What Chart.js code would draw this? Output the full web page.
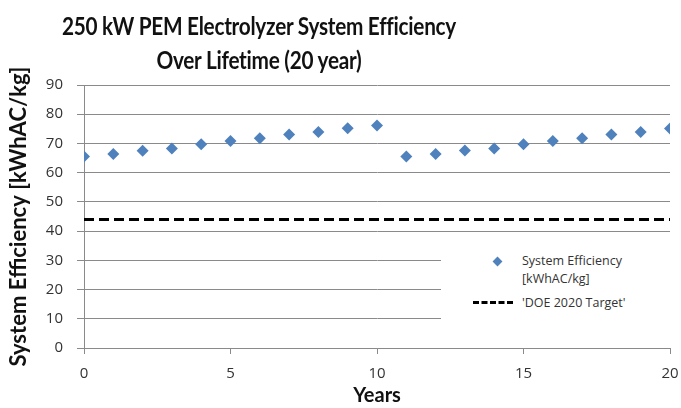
<!DOCTYPE html>
<html>
<head>
<meta charset="utf-8">
<script src="https://cdn.jsdelivr.net/npm/chart.js@4.4.1/dist/chart.umd.min.js"></script>
<style>
    html, body { margin: 0; padding: 0; background: #fff; }
    #wrap { position: relative; width: 681px; height: 408px; overflow: hidden; }
    #chart { position: absolute; left: 0; top: 0; }
    .title {
        position: absolute; left: 0; top: 9px; width: 518px;
        text-align: center; font-family: Lato, sans-serif; font-weight: bold;
        font-size: 24px; line-height: 34px; color: #111; letter-spacing: -0.3px;
        transform: scaleX(0.865); transform-origin: 259px 0;
    }
    .legend {
        position: absolute; left: 441px; top: 246px; width: 240px; height: 92px;
        background: #fff; font-family: "Open Sans", sans-serif; font-size: 12.5px; color: #333;
    }
    .legend .row { position: absolute; left: 81px; }
    .legend .diamond {
        position: absolute; left: 53px; top: 12px; width: 7px; height: 7px;
        background: #4F81BD; transform: rotate(45deg);
    }
    .legend .dash {
        position: absolute; left: 32px; top: 55px; width: 40px; height: 0;
        border-top: 3px dashed #000;
    }
</style>
</head>
<body>
<div id="wrap">
    <canvas id="chart" width="681" height="408"></canvas>
    <div class="title">250 kW PEM Electrolyzer System Efficiency<br>Over Lifetime (20 year)</div>
    <div class="legend">
        <div class="diamond"></div>
        <div class="row" style="top:6px; line-height:18px;">System Efficiency<br>[kWhAC/kg]</div>
        <div class="dash"></div>
        <div class="row" style="top:48px;">'DOE 2020 Target'</div>
    </div>
</div>
<script>
// Years and measured system efficiency
const years = [0, 1, 2, 3, 4, 5, 6, 7, 8, 9, 10, 11, 12, 13, 14, 15, 16, 17, 18, 19, 20];
const efficiency = [65.5, 66.4, 67.5, 68.3, 69.7, 70.8, 71.8, 73.1, 73.9, 75.2, 76.1,
                    65.5, 66.4, 67.6, 68.3, 69.7, 70.8, 71.8, 73.1, 73.9, 75.1];

// DOE target line
const targetYears = [0, 20];
const targetValues = [44, 44];

const gridColor = "#8a8a8a";
const tickColor = "#333";

const ctx = document.getElementById("chart");
new Chart(ctx, {
    type: "scatter",
    data: {
        datasets: [
            {
                label: "System Efficiency [kWhAC/kg]",
                data: years.map((x, i) => ({ x: x, y: efficiency[i] })),
                pointStyle: "rectRot",
                pointRadius: 6,
                backgroundColor: "#4F81BD",
                borderColor: "#4F81BD",
                borderWidth: 0,
                showLine: false
            },
            {
                label: "'DOE 2020 Target'",
                data: targetYears.map((x, i) => ({ x: x, y: targetValues[i] })),
                showLine: true,
                borderColor: "#000",
                borderWidth: 3,
                borderDash: [10, 5],
                pointRadius: 0
            }
        ]
    },
    options: {
        responsive: false,
        animation: false,
        layout: { padding: { top: 85, right: 0, left: 0, bottom: 0 } },
        plugins: {
            legend: { display: false },
            tooltip: { enabled: false }
        },
        scales: {
            x: {
                type: "linear",
                min: 0, max: 20,
                ticks: { stepSize: 5, color: tickColor, font: { family: "Open Sans", size: 15 }, padding: 11 },
                grid: { drawOnChartArea: false, color: gridColor, tickLength: 6 },
                border: { color: gridColor },
                title: {
                    display: true, text: "Years", color: "#111",
                    font: { family: "Lato", size: 20, weight: "bold" }, padding: { top: 0, bottom: 0 }
                },
                afterFit: (scale) => {
                    scale.height = 60;
                    // keep plot right edge close to the picture's edge
                    scale.paddingRight = 11;
                    scale.paddingLeft = 0;
                }
            },
            y: {
                min: 0, max: 90,
                ticks: { stepSize: 10, color: tickColor, font: { family: "Open Sans", size: 15 }, padding: 14 },
                grid: { color: gridColor, tickLength: 7 },
                border: { color: gridColor },
                title: {
                    display: true, text: "System Efficiency [kWhAC/kg]", color: "#111",
                    font: { family: "Lato", size: 22, weight: "bold" }, padding: { top: 6, bottom: 0 }
                },
                afterFit: (scale) => { scale.width = 84; }
            }
        }
    }
});
</script>
</body>
</html>
